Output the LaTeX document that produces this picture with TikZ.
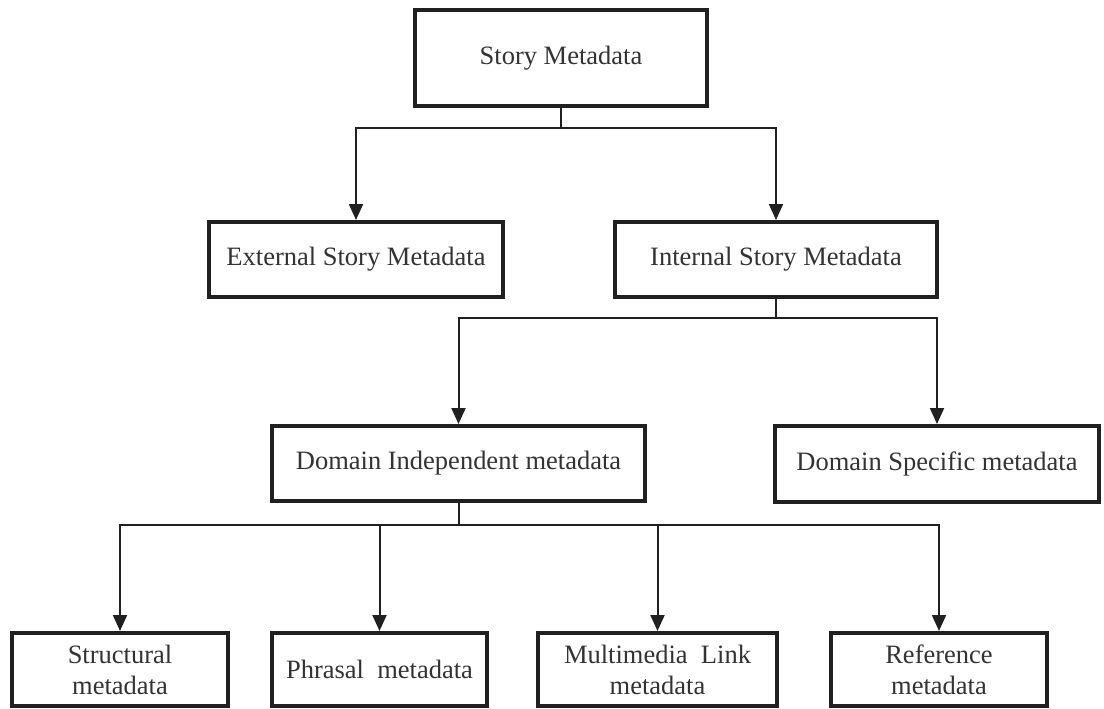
\documentclass[tikz,border=0pt]{standalone}
\usepackage{fontspec}
\setmainfont{Liberation Serif}
\usetikzlibrary{arrows.meta}
\definecolor{ink}{HTML}{202020}
\definecolor{txt}{HTML}{333333}
\begin{document}
\begin{tikzpicture}[x=1pt,y=-1pt,
  box/.style={draw=ink,line width=4pt,fill=white,text=txt,inner sep=0pt,
    align=center,font=\fontsize{26.5}{31}\selectfont},
  conn/.style={draw=ink,line width=2pt},
  arr/.style={conn,-{Triangle[length=16pt,width=14pt]}}]
\useasboundingbox (0,0) rectangle (1104,709);

% boxes
\node[box,minimum width=292pt,minimum height=96pt] (story) at (561,58) {Story Metadata};
\node[box,minimum width=294pt,minimum height=75pt] (ext) at (356,259.5) {External Story Metadata};
\node[box,minimum width=322pt,minimum height=75pt] (int) at (776,259.5) {Internal Story Metadata};
\node[box,minimum width=373pt,minimum height=75pt] (di) at (458.5,463.5) {Domain Independent metadata};
\node[box,minimum width=324pt,minimum height=76pt] (ds) at (937,464) {Domain Specific metadata};
\node[box,minimum width=216pt,minimum height=73pt] (str) at (120,669.5) {Structural\\metadata};
\node[box,minimum width=215pt,minimum height=73pt] (phr) at (379.5,669.5) {Phrasal\ \ metadata};
\node[box,minimum width=239pt,minimum height=73pt] (mm) at (657.5,669.5) {Multimedia\ \ Link\\metadata};
\node[box,minimum width=216pt,minimum height=73pt] (ref) at (939,669.5) {Reference\\metadata};

% junction points of the bus lines
\coordinate (j1) at (561,128);
\coordinate (j2) at (776,318);
\coordinate (j3) at (458.5,525);

% connectors
\draw[conn] (story.south) -- (j1);
\draw[arr] (j1) -| (ext.north);
\draw[arr] (j1) -| (int.north);

\draw[conn] (int.south) -- (j2);
\draw[arr] (j2) -| (di.north);
\draw[arr] (j2) -| (ds.north);

\draw[conn] (di.south) -- (j3);
\draw[arr] (j3) -| (str.north);
\draw[arr] (j3) -| (phr.north);
\draw[arr] (j3) -| (mm.north);
\draw[arr] (j3) -| (ref.north);
\end{tikzpicture}
\end{document}
